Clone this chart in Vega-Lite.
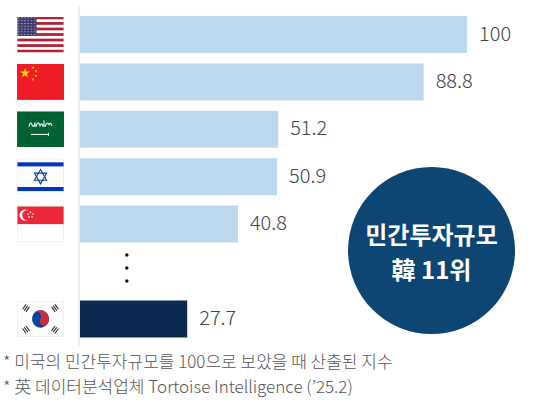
{
  "$schema": "https://vega.github.io/schema/vega-lite/v6.json",
  "width": 539,
  "height": 402,
  "autosize": {"type": "none"},
  "padding": 0,
  "background": "#ffffff",
  "view": {"stroke": null},
  "config": {"text": {"font": "Noto Sans CJK KR"}},
  "datasets": {
    "badge": [{"line1": "민간투자규모", "line2": "韓 11위"}],
    "notes": [{"note": "* 미국의 민간투자규모를 100으로 보았을 때 산출된 지수", "line": 1}, {"note": "* 英 데이터분석업체 Tortoise Intelligence (’25.2)", "line": 2}],
    "dots": [{"dot": 4.652}, {"dot": 4.926}, {"dot": 5.2}]
  },
  "data": {
    "values": [
      {"country": "USA", "value": 100, "rank": 0, "flag": "data:image/svg+xml;utf8,<svg xmlns='http://www.w3.org/2000/svg' width='47' height='35' viewBox='0 0 47 35' preserveAspectRatio='none'><defs><pattern id='s' width='3.2' height='2.7' patternUnits='userSpaceOnUse'><circle cx='1.6' cy='1.35' r='0.55' fill='white'/></pattern></defs><rect width='47' height='35' fill='white'/><g fill='rgb(178,34,52)'><rect y='0' width='47' height='2.69'/><rect y='5.38' width='47' height='2.69'/><rect y='10.77' width='47' height='2.69'/><rect y='16.15' width='47' height='2.69'/><rect y='21.54' width='47' height='2.69'/><rect y='26.92' width='47' height='2.69'/><rect y='32.31' width='47' height='2.69'/></g><rect width='19.5' height='18.85' fill='rgb(60,59,110)'/><rect width='19.5' height='18.85' fill='url(%23s)'/><rect x='0.25' y='0.25' width='46.5' height='34.5' fill='none' stroke='rgb(225,225,225)' stroke-width='0.5'/></svg>"},
      {"country": "China", "value": 88.8, "rank": 1, "flag": "data:image/svg+xml;utf8,<svg xmlns='http://www.w3.org/2000/svg' width='47' height='35' viewBox='0 0 47 35' preserveAspectRatio='none'><rect width='47' height='35' fill='rgb(238,28,37)'/><g fill='rgb(255,222,0)'><polygon transform='translate(8,9)' points='0,-5 1.12,-1.55 4.76,-1.55 1.82,0.59 2.94,4.05 0,1.91 -2.94,4.05 -1.82,0.59 -4.76,-1.55 -1.12,-1.55'/><polygon transform='translate(16,3.5) scale(0.35)' points='0,-5 1.12,-1.55 4.76,-1.55 1.82,0.59 2.94,4.05 0,1.91 -2.94,4.05 -1.82,0.59 -4.76,-1.55 -1.12,-1.55'/><polygon transform='translate(19,7) scale(0.35)' points='0,-5 1.12,-1.55 4.76,-1.55 1.82,0.59 2.94,4.05 0,1.91 -2.94,4.05 -1.82,0.59 -4.76,-1.55 -1.12,-1.55'/><polygon transform='translate(19,11.5) scale(0.35)' points='0,-5 1.12,-1.55 4.76,-1.55 1.82,0.59 2.94,4.05 0,1.91 -2.94,4.05 -1.82,0.59 -4.76,-1.55 -1.12,-1.55'/><polygon transform='translate(16,15) scale(0.35)' points='0,-5 1.12,-1.55 4.76,-1.55 1.82,0.59 2.94,4.05 0,1.91 -2.94,4.05 -1.82,0.59 -4.76,-1.55 -1.12,-1.55'/></g></svg>"},
      {"country": "Saudi Arabia", "value": 51.2, "rank": 2, "flag": "data:image/svg+xml;utf8,<svg xmlns='http://www.w3.org/2000/svg' width='47' height='35' viewBox='0 0 47 35' preserveAspectRatio='none'><rect width='47' height='35' fill='rgb(0,98,51)'/><g fill='none' stroke='white' stroke-width='1.1' opacity='0.95'><path d='M12,15 Q13,9 15,13 T18,11 L18,15 M19,15 Q21,8 23,14 Q25,10 26,15 M27,9 L27,15 M28,15 Q30,9 32,13 Q33,10 35,14'/></g><g fill='white'><rect x='14' y='22' width='18' height='1'/><rect x='31' y='21' width='1' height='3'/></g></svg>"},
      {"country": "Israel", "value": 50.9, "rank": 3, "flag": "data:image/svg+xml;utf8,<svg xmlns='http://www.w3.org/2000/svg' width='47' height='35' viewBox='0 0 47 35' preserveAspectRatio='none'><rect width='47' height='35' fill='white'/><g fill='rgb(0,56,184)'><rect y='3.5' width='47' height='4'/><rect y='27.5' width='47' height='4'/></g><g fill='none' stroke='rgb(0,56,184)' stroke-width='1.1'><polygon points='23.5,10.5 29.56,21 17.44,21'/><polygon points='23.5,24.5 29.56,14 17.44,14'/></g><rect x='0.25' y='0.25' width='46.5' height='34.5' fill='none' stroke='rgb(225,225,225)' stroke-width='0.5'/></svg>"},
      {"country": "Singapore", "value": 40.8, "rank": 4, "flag": "data:image/svg+xml;utf8,<svg xmlns='http://www.w3.org/2000/svg' width='47' height='35' viewBox='0 0 47 35' preserveAspectRatio='none'><rect width='47' height='35' fill='white'/><rect width='47' height='17.5' fill='rgb(237,41,57)'/><circle cx='8' cy='8.75' r='5.5' fill='white'/><circle cx='10.2' cy='8.75' r='5' fill='rgb(237,41,57)'/><g fill='white'><circle cx='13.5' cy='6' r='0.8'/><circle cx='15.9' cy='7.7' r='0.8'/><circle cx='15' cy='10.5' r='0.8'/><circle cx='12' cy='10.5' r='0.8'/><circle cx='11.1' cy='7.7' r='0.8'/></g><rect x='0.25' y='0.25' width='46.5' height='34.5' fill='none' stroke='rgb(225,225,225)' stroke-width='0.5'/></svg>"},
      {"country": "Korea", "value": 27.7, "rank": 6, "flag": "data:image/svg+xml;utf8,<svg xmlns='http://www.w3.org/2000/svg' width='47' height='35' viewBox='0 0 47 35' preserveAspectRatio='none'><rect width='47' height='35' fill='white'/><g transform='rotate(33.7 23.5 17.5)'><circle cx='23.5' cy='17.5' r='8.5' fill='rgb(0,71,160)'/><path d='M15,17.5 A8.5,8.5 0 0 1 32,17.5 A4.25,4.25 0 0 1 23.5,17.5 A4.25,4.25 0 0 0 15,17.5 Z' fill='rgb(205,46,58)'/></g><g fill='rgb(30,30,30)'><g transform='rotate(-53.3 9 7)'><rect x='6' y='4.4' width='6' height='1'/><rect x='6' y='6.5' width='6' height='1'/><rect x='6' y='8.6' width='6' height='1'/></g><g transform='rotate(-53.3 38 28)'><rect x='35' y='25.4' width='6' height='1'/><rect x='35' y='27.5' width='6' height='1'/><rect x='35' y='29.6' width='6' height='1'/></g><g transform='rotate(53.3 38 7)'><rect x='35' y='4.4' width='6' height='1'/><rect x='35' y='6.5' width='6' height='1'/><rect x='35' y='8.6' width='6' height='1'/></g><g transform='rotate(53.3 9 28)'><rect x='6' y='25.4' width='6' height='1'/><rect x='6' y='27.5' width='6' height='1'/><rect x='6' y='29.6' width='6' height='1'/></g></g><rect x='0.25' y='0.25' width='46.5' height='34.5' fill='none' stroke='rgb(225,225,225)' stroke-width='0.5'/></svg>"}
    ]
  },
  "layer": [
    {
      "mark": {"type": "rule", "color": "#ececec", "strokeWidth": 1},
      "encoding": {
        "x": {"datum": -0.2, "type": "quantitative", "scale": {"domain": [-20.67, 118.6], "nice": false, "zero": false, "padding": 0}, "axis": null},
        "y": {"datum": -0.62, "type": "quantitative", "scale": {"domain": [-0.728, 7.753], "reverse": true, "nice": false, "zero": false, "padding": 0}, "axis": null},
        "y2": {"datum": 6.59}
      }
    },
    {
      "mark": {"type": "image", "width": 47, "height": 36, "aspect": false},
      "encoding": {
        "x": {"datum": -10.2, "type": "quantitative"},
        "y": {"field": "rank", "type": "quantitative"},
        "url": {"field": "flag", "type": "nominal"}
      }
    },
    {
      "mark": {"type": "bar", "orient": "horizontal", "size": 37},
      "encoding": {
        "x": {"field": "value", "type": "quantitative"},
        "x2": {"datum": 0},
        "y": {"field": "rank", "type": "quantitative"},
        "color": {
          "condition": {"test": "datum.country === 'Korea'", "value": "#0b2a4f"},
          "value": "#bdd8ee"
        }
      }
    },
    {
      "mark": {"type": "text", "align": "left", "baseline": "middle", "dx": 12, "fontSize": 20, "fontWeight": 300, "color": "#444444"},
      "encoding": {
        "x": {"field": "value", "type": "quantitative"},
        "y": {"field": "rank", "type": "quantitative"},
        "text": {"field": "value", "type": "quantitative"}
      }
    },
    {
      "data": {"name": "dots"},
      "mark": {"type": "circle", "size": 12, "color": "#111111", "opacity": 1},
      "encoding": {
        "x": {"datum": 12.1, "type": "quantitative"},
        "y": {"field": "dot", "type": "quantitative"}
      }
    },
    {
      "data": {"name": "badge"},
      "mark": {"type": "circle", "size": 27889, "color": "#0d4573", "opacity": 1},
      "encoding": {
        "x": {"datum": 90.83, "type": "quantitative"},
        "y": {"datum": 4.557, "type": "quantitative"}
      }
    },
    {
      "data": {"name": "badge"},
      "mark": {"type": "text", "align": "center", "baseline": "middle", "fontSize": 24, "fontWeight": "bold", "color": "#ffffff"},
      "encoding": {
        "x": {"datum": 90.83, "type": "quantitative"},
        "y": {"datum": 4.27, "type": "quantitative"},
        "text": {"field": "line1", "type": "nominal"}
      }
    },
    {
      "data": {"name": "badge"},
      "mark": {"type": "text", "align": "center", "baseline": "middle", "fontSize": 24, "fontWeight": "bold", "color": "#ffffff"},
      "encoding": {
        "x": {"datum": 90.83, "type": "quantitative"},
        "y": {"datum": 5.01, "type": "quantitative"},
        "text": {"field": "line2", "type": "nominal"}
      }
    },
    {
      "data": {"name": "notes"},
      "transform": [{"filter": "datum.line === 1"}],
      "mark": {"type": "text", "align": "left", "baseline": "middle", "fontSize": 17, "fontWeight": 300, "color": "#555555"},
      "encoding": {
        "x": {"datum": -19.9, "type": "quantitative"},
        "y": {"datum": 6.93, "type": "quantitative"},
        "text": {"field": "note", "type": "nominal"}
      }
    },
    {
      "data": {"name": "notes"},
      "transform": [{"filter": "datum.line === 2"}],
      "mark": {"type": "text", "align": "left", "baseline": "middle", "fontSize": 17, "fontWeight": 300, "color": "#555555"},
      "encoding": {
        "x": {"datum": -19.9, "type": "quantitative"},
        "y": {"datum": 7.458, "type": "quantitative"},
        "text": {"field": "note", "type": "nominal"}
      }
    }
  ]
}
